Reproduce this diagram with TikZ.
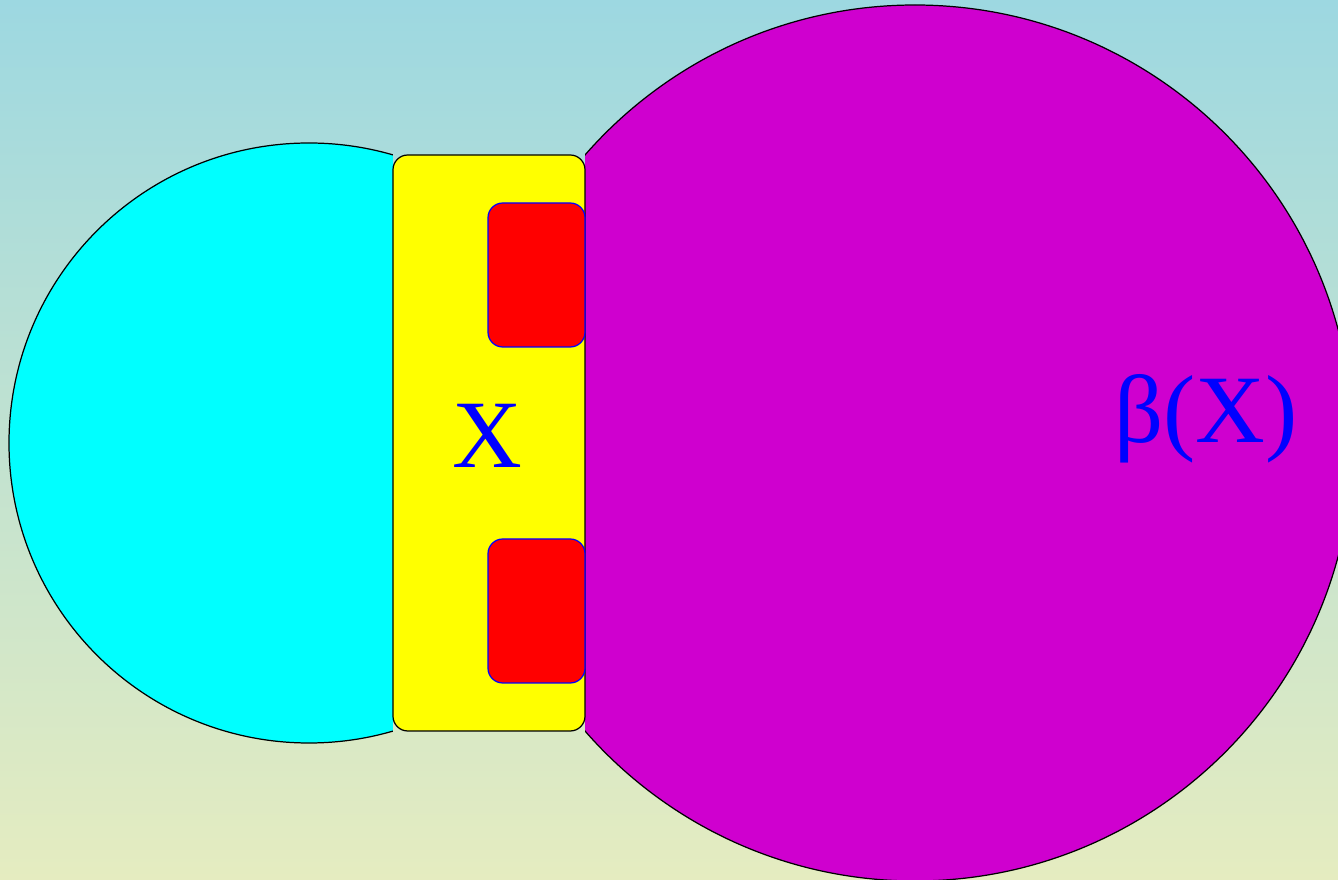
\documentclass[tikz,border=0pt]{standalone}
\usepackage{fontspec}
\setmainfont{Liberation Serif}
\usepackage{xcolor}
\usepackage{tikz}
\usetikzlibrary{positioning,calc}
\definecolor{skytop}{RGB}{157,216,225}
\definecolor{sandbottom}{RGB}{229,236,192}
\definecolor{spacecyan}{RGB}{0,255,255}
\definecolor{remmagenta}{RGB}{207,0,207}
\definecolor{setyellow}{RGB}{255,255,0}
\definecolor{patchred}{RGB}{255,0,0}
\definecolor{labelblue}{RGB}{0,0,255}
\tikzset{
  outline/.style={draw=black, line width=0.35pt},
  setbox/.style={outline, fill=setyellow, rounded corners=4.2pt},
  patch/.style={draw=labelblue, line width=0.35pt, fill=patchred, rounded corners=4.2pt},
  biglabel/.style={text=labelblue, inner sep=0pt, font=\fontsize{27.5}{32}\selectfont}
}

\begin{document}
\begin{tikzpicture}
  \useasboundingbox (0,0) rectangle (13.38,8.80);
  \clip (0,0) rectangle (13.38,8.80);
  % Background
  \shade[top color=skytop, bottom color=sandbottom] (0,0) rectangle (13.38,8.80);

  % Left disc
  \begin{scope}
    \clip (-1,-1) rectangle (3.93,10);
    \filldraw[outline, fill=spacecyan] (3.09,4.37) circle (3.00);
  \end{scope}

  % Right disc
  \begin{scope}
    \clip (5.85,-1) rectangle (15,10);
    \filldraw[outline, fill=remmagenta] (9.15,4.37) circle (4.38);
  \end{scope}

  % Middle set
  \filldraw[setbox] (3.93,1.49) rectangle (5.85,7.25);
  \filldraw[patch] (4.88,5.33) rectangle (5.85,6.77);
  \filldraw[patch] (4.88,1.97) rectangle (5.85,3.41);

  % Labels
  \node[biglabel] (xlab) at (4.87,4.44) {X};
  \node[biglabel, anchor=base] (betalab) at (12.06,4.37) {β(X)};
\end{tikzpicture}
\end{document}
